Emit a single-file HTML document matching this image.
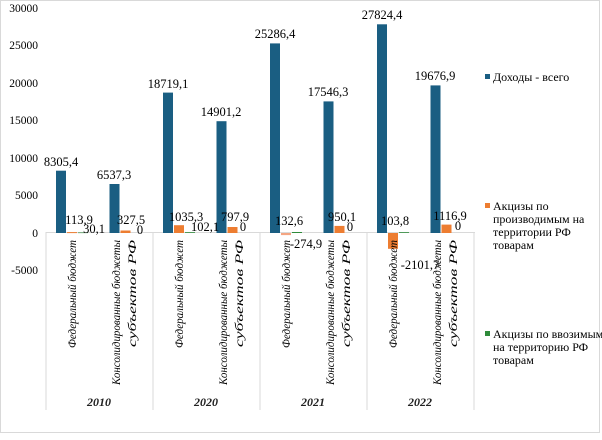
<!DOCTYPE html>
<html><head><meta charset="utf-8"><style>
body{margin:0;background:#fff}
svg text{font-family:"Liberation Serif","DejaVu Serif",serif}
</style></head><body>
<svg width="602" height="435" viewBox="0 0 602 435" xmlns="http://www.w3.org/2000/svg" font-family="Liberation Serif, serif">
<rect x="0.5" y="0.5" width="599" height="432" fill="#fff" stroke="#d9d9d9"/>
<g font-size="11.5" fill="#000" text-anchor="end">
<text x="38" y="12">30000</text>
<text x="38" y="49">25000</text>
<text x="38" y="87">20000</text>
<text x="38" y="124">15000</text>
<text x="38" y="162">10000</text>
<text x="38" y="199">5000</text>
<text x="38" y="237">0</text>
<text x="38" y="274">-5000</text>
</g>
<g stroke="#d9d9d9" stroke-width="1">
<line x1="46" y1="232.5" x2="475" y2="232.5"/>
<line x1="46" y1="232" x2="46" y2="410"/>
<line x1="153" y1="232" x2="153" y2="410"/>
<line x1="260" y1="232" x2="260" y2="410"/>
<line x1="367" y1="232" x2="367" y2="410"/>
<line x1="474" y1="232" x2="474" y2="410"/>
</g>
<g>
<rect x="56" y="170.7" width="10" height="62.3" fill="#1a5e82"/>
<rect x="67" y="232.1" width="10" height="1" fill="#ed7d31"/>
<rect x="78" y="232.5" width="10" height="0.6" fill="#2e8b3a"/>
<rect x="109.5" y="184" width="10" height="49" fill="#1a5e82"/>
<rect x="120.5" y="230.5" width="10" height="2.5" fill="#ed7d31"/>

<rect x="163" y="92.6" width="10" height="140.4" fill="#1a5e82"/>
<rect x="174" y="225.2" width="10" height="7.8" fill="#ed7d31"/>
<rect x="185" y="232.2" width="10" height="0.8" fill="#2e8b3a"/>
<rect x="216.5" y="121.2" width="10" height="111.8" fill="#1a5e82"/>
<rect x="227.5" y="227" width="10" height="6" fill="#ed7d31"/>

<rect x="270" y="43.4" width="10" height="189.6" fill="#1a5e82"/>
<rect x="281" y="233" width="10" height="2.1" fill="#f4a582"/>
<rect x="292" y="232" width="10" height="1" fill="#2e8b3a"/>
<rect x="323.5" y="101.4" width="10" height="131.6" fill="#1a5e82"/>
<rect x="334.5" y="225.9" width="10" height="7.1" fill="#ed7d31"/>

<rect x="377" y="24.3" width="10" height="208.7" fill="#1a5e82"/>
<rect x="388" y="233" width="10" height="15.8" fill="#ed7d31"/>
<rect x="399" y="232.2" width="10" height="0.8" fill="#2e8b3a"/>
<rect x="430.5" y="85.4" width="10" height="147.6" fill="#1a5e82"/>
<rect x="441.5" y="224.6" width="10" height="8.4" fill="#ed7d31"/>
</g>
<g font-size="12.5" fill="#000" text-anchor="middle">
<text x="61" y="166">8305,4</text>
<text x="79" y="224">113,9</text>
<text x="94" y="233">30,1</text>
<text x="114" y="179">6537,3</text>
<text x="131" y="224">327,5</text>
<text x="140" y="234">0</text>

<text x="168" y="88">18719,1</text>
<text x="186" y="221">1035,3</text>
<text x="205" y="231">102,1</text>
<text x="221" y="116">14901,2</text>
<text x="235" y="221">797,9</text>
<text x="243" y="231">0</text>

<text x="275" y="38">25286,4</text>
<text x="289" y="225">132,6</text>
<text x="306" y="248">-274,9</text>
<text x="328" y="96">17546,3</text>
<text x="342" y="221">950,1</text>
<text x="350" y="231">0</text>

<text x="382" y="19">27824,4</text>
<text x="395" y="225">103,8</text>
<text x="420" y="269">-2101,7</text>
<text x="435" y="80">19676,9</text>
<text x="450" y="220">1116,9</text>
<text x="458" y="230">0</text>
</g>
<g font-size="12" font-style="italic" fill="#000">
<text transform="translate(76,348) rotate(-90)" textLength="108" lengthAdjust="spacingAndGlyphs">Федеральный бюджет</text>
<text transform="translate(120,385) rotate(-90)" textLength="145" lengthAdjust="spacingAndGlyphs">Консолидированные бюджеты</text>
<text transform="translate(136,347) rotate(-90)" textLength="107" lengthAdjust="spacingAndGlyphs">субъектов РФ</text>
<text transform="translate(183,348) rotate(-90)" textLength="108" lengthAdjust="spacingAndGlyphs">Федеральный бюджет</text>
<text transform="translate(227,385) rotate(-90)" textLength="145" lengthAdjust="spacingAndGlyphs">Консолидированные бюджеты</text>
<text transform="translate(243,347) rotate(-90)" textLength="107" lengthAdjust="spacingAndGlyphs">субъектов РФ</text>
<text transform="translate(290,348) rotate(-90)" textLength="108" lengthAdjust="spacingAndGlyphs">Федеральный бюджет</text>
<text transform="translate(334,385) rotate(-90)" textLength="145" lengthAdjust="spacingAndGlyphs">Консолидированные бюджеты</text>
<text transform="translate(350,347) rotate(-90)" textLength="107" lengthAdjust="spacingAndGlyphs">субъектов РФ</text>
<text transform="translate(397,348) rotate(-90)" textLength="108" lengthAdjust="spacingAndGlyphs">Федеральный бюджет</text>
<text transform="translate(441,385) rotate(-90)" textLength="145" lengthAdjust="spacingAndGlyphs">Консолидированные бюджеты</text>
<text transform="translate(457,347) rotate(-90)" textLength="107" lengthAdjust="spacingAndGlyphs">субъектов РФ</text>
</g>
<g font-size="12" font-style="italic" font-weight="bold" fill="#222" text-anchor="middle">
<text x="99" y="406">2010</text>
<text x="206" y="406">2020</text>
<text x="313" y="406">2021</text>
<text x="420" y="406">2022</text>
</g>
<g font-size="12" fill="#000">
<rect x="485" y="74" width="5" height="5" fill="#1a5e82"/>
<text x="493" y="81">Доходы - всего</text>
<rect x="485" y="203" width="5" height="5" fill="#ed7d31"/>
<text x="493" y="210">Акцизы по</text>
<text x="493" y="223">производимым на</text>
<text x="493" y="236">территории РФ</text>
<text x="493" y="249">товарам</text>
<rect x="485" y="331" width="5" height="5" fill="#2e8b3a"/>
<text x="493" y="338">Акцизы по ввозимым</text>
<text x="493" y="351">на территорию РФ</text>
<text x="493" y="364">товарам</text>
</g>
</svg>
</body></html>
